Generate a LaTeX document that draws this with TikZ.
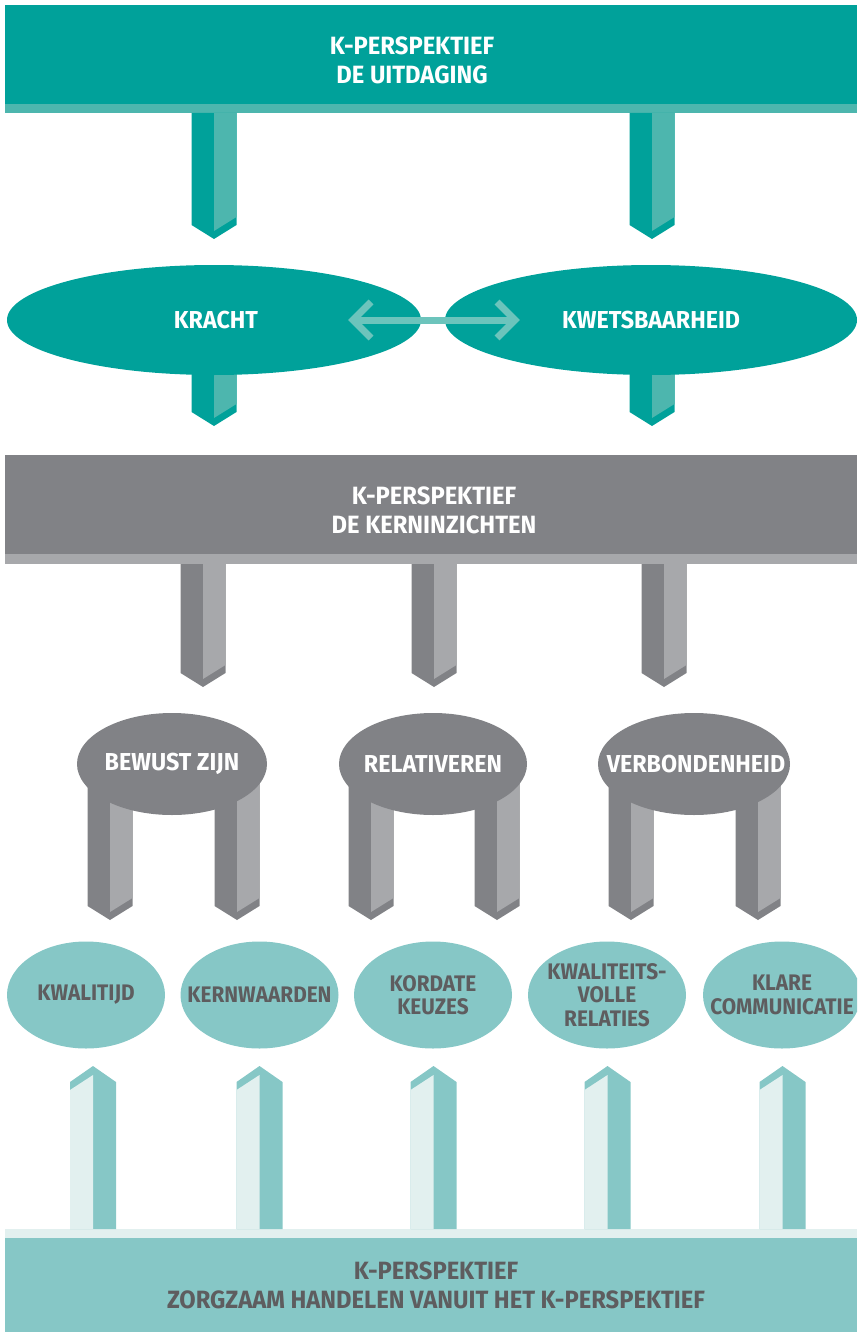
\documentclass[tikz,border=0pt]{standalone}
\usepackage{fontspec}
\setmainfont{Fira Sans}[FakeStretch=0.95]
\newfontfamily\smallfam{Fira Sans}[FakeStretch=0.925]
\usetikzlibrary{shapes.geometric}
\definecolor{tealD}{HTML}{00A19A}
\definecolor{tealL}{HTML}{4DB6AE}
\definecolor{tealA}{HTML}{6CC4BC}
\definecolor{greyD}{HTML}{818286}
\definecolor{greyL}{HTML}{A7A8AB}
\definecolor{mint}{HTML}{86C7C6}
\definecolor{mintL}{HTML}{E2F0EF}
\definecolor{txtD}{HTML}{5E5D5F}
\newcommand\pdown[6]{% cx, top, bot, dark, light, name
  \fill[#4] ({#1-22.5},#2) -- ({#1+22.5},#2) -- ({#1+22.5},#3) -- (#1,{#3+14}) -- ({#1-22.5},#3) -- cycle;
  \fill[#5] (#1,#2) -- ({#1+22.5},#2) -- ({#1+22.5},{#3-8}) -- (#1,{#3+6}) -- cycle;
  \coordinate (#6) at (#1,{#3+14});}
\newcommand\pup[4]{% cx, top, bot, name
  \fill[mint] ({#1-23},#3) -- ({#1-23},#2) -- (#1,{#2-16}) -- ({#1+23},#2) -- ({#1+23},#3) -- cycle;
  \fill[mintL] ({#1-23},#3) -- ({#1-23},{#2+8}) -- (#1,{#2-7}) -- (#1,#3) -- cycle;
  \coordinate (#4) at (#1,{#2-16});}
\begin{document}
\begin{tikzpicture}[x=1pt,y=-1pt,
  bigtxt/.style={font=\fontsize{25}{29}\selectfont\bfseries, align=center, inner sep=0},
  smalltxt/.style={font=\smallfam\fontsize{22.5}{23.5}\selectfont\bfseries, align=center, text=txtD, inner sep=0},
  ovaltxt/.style={font=\fontsize{24.5}{28}\selectfont\bfseries, text=white, inner sep=0},
  ovalT/.style={ellipse, fill=tealD, minimum width=#1, minimum height=110pt, inner sep=0},
  ovalG/.style={ellipse, fill=greyD, minimum width=#1, minimum height=102pt, inner sep=0},
  ovalM/.style={ellipse, fill=mint, minimum width=158pt, minimum height=107pt, inner sep=0},
  dbl/.style={draw=tealA, line width=7pt, miter limit=10}
]
\useasboundingbox (0,0) rectangle (857,1332);
\clip (0,0) rectangle (857,1332);
% top bar
\fill[tealL] (5,100) rectangle (857,113);
\fill[tealD] (5,5) rectangle (857,104);
\node[bigtxt, text=white] (top) at (412,60) {K-PERSPEKTIEF\\DE UITDAGING};
% arrows from top bar
\pdown{214}{113}{225}{tealD}{tealL}{t1}
\pdown{652}{113}{225}{tealD}{tealL}{t2}
% arrows under teal ellipses
\pdown{214}{320}{412}{tealD}{tealL}{k1}
\pdown{652}{320}{412}{tealD}{tealL}{k2}
% teal ellipses
\node[ovalT=414pt] (kracht) at (214,320) {};
\node[ovalT=412pt] (kwets) at (651,320) {};
\node[ovaltxt] at (216,320) {KRACHT};
\node[ovaltxt] at (651,320) {KWETSBAARHEID};
% double arrow
\coordinate (dl) at (353,320);
\coordinate (dr) at (515,320);
\draw[dbl] (dl) -- (dr);
\draw[dbl] ([shift={(18,-18)}]dl) -- (dl) -- ([shift={(18,18)}]dl);
\draw[dbl] ([shift={(-18,-18)}]dr) -- (dr) -- ([shift={(-18,18)}]dr);
% grey bar
\fill[greyL] (5,550) rectangle (857,564);
\fill[greyD] (5,455) rectangle (857,554);
\node[bigtxt, text=white] (mid) at (434,510) {K-PERSPEKTIEF\\DE KERNINZICHTEN};
% grey arrows
\pdown{203}{564}{673}{greyD}{greyL}{g1}
\pdown{434}{564}{673}{greyD}{greyL}{g2}
\pdown{664}{564}{673}{greyD}{greyL}{g3}
% stool legs
\pdown{110}{764}{906}{greyD}{greyL}{l1}
\pdown{237}{764}{906}{greyD}{greyL}{l2}
\pdown{371}{764}{906}{greyD}{greyL}{l3}
\pdown{497}{764}{906}{greyD}{greyL}{l4}
\pdown{631}{764}{906}{greyD}{greyL}{l5}
\pdown{758}{764}{906}{greyD}{greyL}{l6}
% stool tops
\node[ovalG=190pt] (bewust) at (172,764) {};
\node[ovalG=188pt] (relat) at (433,764) {};
\node[ovalG=192pt] (verb) at (694,764) {};
\node[ovaltxt] at (bewust) {BEWUST ZIJN};
\node[ovaltxt] at (relat) {RELATIVEREN};
\node[ovaltxt] at (696,764) {VERBONDENHEID};
% small ellipses
\node[ovalM] (e1) at (86,995) {};
\node[ovalM] (e2) at (259.5,995) {};
\node[ovalM] (e3) at (433,995) {};
\node[ovalM] (e4) at (607,995) {};
\node[ovalM] (e5) at (782,995) {};
\node[smalltxt] at (e1) {KWALITIJD};
\node[smalltxt] at (e2) {KERNWAARDEN};
\node[smalltxt] at (e3) {KORDATE\\KEUZES};
\node[smalltxt] at (e4) {KWALITEITS-\\VOLLE\\RELATIES};
\node[smalltxt] at (e5) {KLARE\\COMMUNICATIE};
% bottom bar
\fill[mintL] (5,1229) rectangle (857,1240);
\fill[mint] (5,1238) rectangle (857,1332);
\node[bigtxt, text=txtD] (bot) at (436,1285) {K-PERSPEKTIEF\\ZORGZAAM HANDELEN VANUIT HET K-PERSPEKTIEF};
% up arrows
\pup{93}{1082}{1229}{u1}
\pup{259.5}{1082}{1229}{u2}
\pup{433.5}{1082}{1229}{u3}
\pup{607.5}{1082}{1229}{u4}
\pup{782.5}{1082}{1229}{u5}
\end{tikzpicture}
\end{document}
